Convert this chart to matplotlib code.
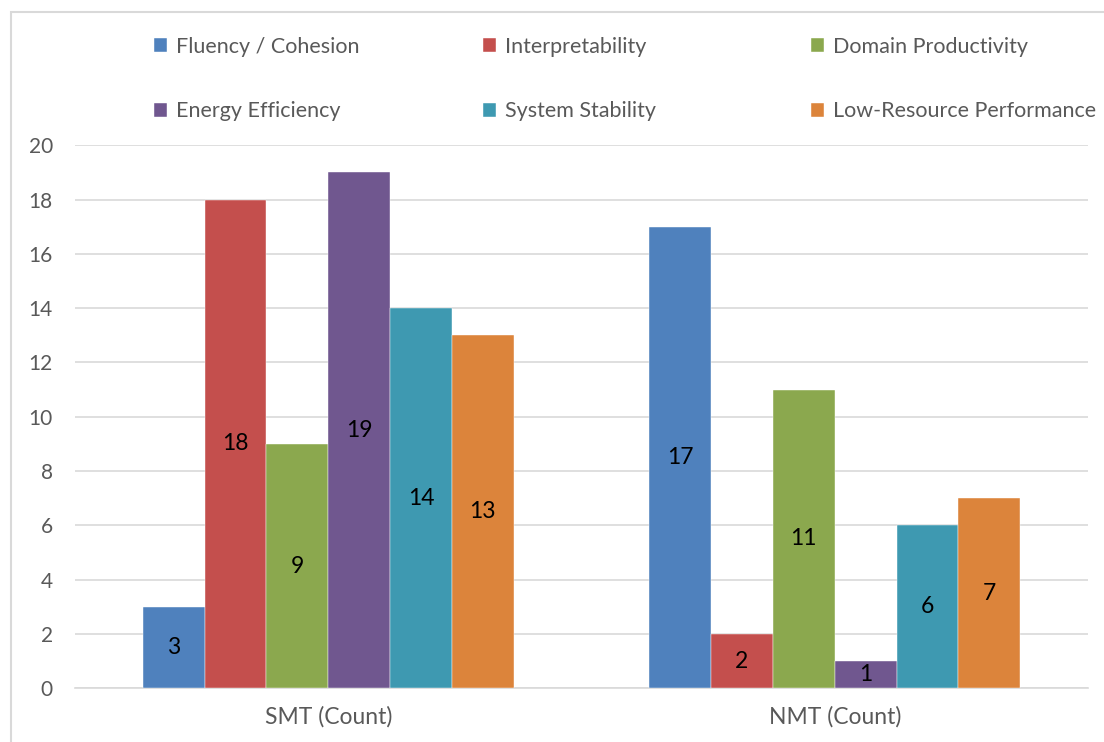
import matplotlib
matplotlib.use("Agg")
import matplotlib.pyplot as plt
from matplotlib.patches import Rectangle
import numpy as np

categories = ["SMT (Count)", "NMT (Count)"]
series_names = ["Fluency / Cohesion", "Interpretability", "Domain Productivity",
                "Energy Efficiency", "System Stability", "Low-Resource Performance"]
fluency = [3, 17]
interpretability = [18, 2]
domain = [9, 11]
energy = [19, 1]
stability = [14, 6]
low_resource = [13, 7]
series_values = [fluency, interpretability, domain, energy, stability, low_resource]
colors = ["#4F81BD", "#C44F4D", "#8BA84E", "#70578F", "#3E99B1", "#DC843B"]
yticks = [0, 2, 4, 6, 8, 10, 12, 14, 16, 18, 20]

plt.rcParams["font.family"] = ["Lato", "DejaVu Sans"]
text_gray = "#595959"
grid_gray = "#D9D9D9"

fig = plt.figure(figsize=(11.04, 7.42), dpi=100)
ax = fig.add_axes([75 / 1104, 1 - 688.3 / 742, (1088 - 75) / 1104, (688.3 - 145.3) / 742])

n = len(series_values)
x = np.arange(len(categories))
width = 0.7325 / n
handles = []
for i, (vals, name, c) in enumerate(zip(series_values, series_names, colors)):
    pos = x + (i - (n - 1) / 2) * width
    bars = ax.bar(pos, vals, width, color=c, label=name, edgecolor="white",
                  linewidth=0.3, zorder=3)
    handles.append(bars)
    for b, v in zip(bars, vals):
        ax.text(b.get_x() + b.get_width() / 2, v / 2, str(v), ha="center",
                va="center", fontsize=16.5, color="black", zorder=4)

ax.set_xlim(-0.5, len(categories) - 0.5)
ax.set_ylim(0, 20)
ax.set_yticks(yticks)
ax.set_xticks(x)
ax.set_xticklabels(categories)
ax.grid(axis="y", color=grid_gray, linewidth=1.2, zorder=0)
for s in ["top", "right", "left"]:
    ax.spines[s].set_visible(False)
ax.spines["bottom"].set_color(grid_gray)
ax.spines["bottom"].set_linewidth(1.2)
ax.tick_params(axis="both", length=0, labelcolor=text_gray)
ax.tick_params(axis="y", labelsize=15, pad=16)
ax.tick_params(axis="x", labelsize=16.5, pad=13)

# Legend laid out in three columns, filled row by row
col_x = [145, 474, 802]
for col, left in enumerate(col_x):
    idx = [col, col + 3]
    leg = fig.legend([handles[k] for k in idx], [series_names[k] for k in idx],
                     loc="upper left", bbox_to_anchor=(left / 1104, 1 - 28 / 742),
                     frameon=False, fontsize=15.5, labelcolor=text_gray,
                     handlelength=0.62, handleheight=0.62, handletextpad=0.4,
                     labelspacing=2.08, borderaxespad=0)

fig.patches.append(Rectangle((11 / 1104, -0.05), 1.2, 1 - 12 / 742 + 0.05,
                             transform=fig.transFigure, fill=False,
                             edgecolor=grid_gray, linewidth=1.5))

fig.savefig("out.png", dpi=100)
